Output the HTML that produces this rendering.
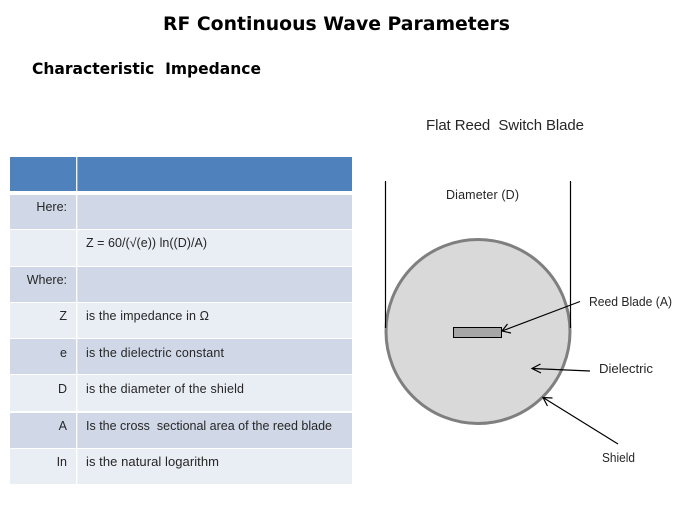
<!DOCTYPE html>
<html>
<head>
<meta charset="utf-8">
<style>
html,body{margin:0;padding:0;background:#fff;width:674px;height:506px;overflow:hidden}
svg{display:block}
text{font-family:"Liberation Sans",sans-serif;font-size:12.5px;fill:#262626;white-space:pre}
.t{font-family:"DejaVu Sans",sans-serif;font-weight:bold;fill:#000}
.r{text-anchor:end}
</style>
</head>
<body>
<svg width="674" height="506" viewBox="0 0 674 506" xmlns="http://www.w3.org/2000/svg">
<rect width="674" height="506" fill="#fff"/>
<text class="t" x="163" y="30" style="font-size:19px" textLength="347" lengthAdjust="spacingAndGlyphs">RF Continuous Wave Parameters</text>
<text class="t" x="32" y="74" style="font-size:16px" textLength="229" lengthAdjust="spacingAndGlyphs">Characteristic  Impedance</text>

<!-- table -->
<rect x="10" y="157" width="342" height="34" fill="#4f81bd"/>
<rect x="10" y="195" width="342" height="34" fill="#d0d8e8"/>
<rect x="10" y="230" width="342" height="36" fill="#e9edf4"/>
<rect x="10" y="267" width="342" height="35" fill="#d0d8e8"/>
<rect x="10" y="303" width="342" height="35" fill="#e9edf4"/>
<rect x="10" y="339" width="342" height="35" fill="#d0d8e8"/>
<rect x="10" y="375" width="342" height="36" fill="#e9edf4"/>
<rect x="10" y="413" width="342" height="35" fill="#d0d8e8"/>
<rect x="10" y="449" width="342" height="35" fill="#e9edf4"/>
<rect x="76" y="157" width="1.4" height="327" fill="#fff" opacity=".9"/>

<text class="r" x="67" y="211">Here:</text>
<text x="86" y="247" textLength="121" lengthAdjust="spacing">Z = 60/(√(e)) ln((D)/A)</text>
<text class="r" x="67" y="284">Where:</text>
<text class="r" x="67" y="320">Z</text>
<text x="86" y="320" textLength="123" lengthAdjust="spacing">is the impedance in Ω</text>
<text class="r" x="67" y="357">e</text>
<text x="86" y="357" textLength="138" lengthAdjust="spacing">is the dielectric constant</text>
<text class="r" x="67" y="393">D</text>
<text x="86" y="393" textLength="158" lengthAdjust="spacing">is the diameter of the shield</text>
<text class="r" x="67" y="430">A</text>
<text x="86" y="430" textLength="246" lengthAdjust="spacing">Is the cross  sectional area of the reed blade</text>
<text class="r" x="67" y="466">In</text>
<text x="86" y="466" style="font-size:13px" textLength="133" lengthAdjust="spacing">is the natural logarithm</text>

<!-- diagram -->
<text x="426" y="130" style="font-size:15px" textLength="158" lengthAdjust="spacing">Flat Reed  Switch Blade</text>
<text x="446" y="199" textLength="73" lengthAdjust="spacing">Diameter (D)</text>
<circle cx="478" cy="331.5" r="92" fill="#d9d9d9" stroke="#7f7f7f" stroke-width="3"/>
<path d="M385.5 181V328M570.5 181V328" stroke="#000" stroke-width="1.2" fill="none"/>
<rect x="453.5" y="327.5" width="48" height="10" fill="#a6a6a6" stroke="#000" stroke-width="1"/>
<g stroke="#000" stroke-width="1.2" fill="none">
<path d="M580 301.5L502 331M507.5 324L502 331L511 333"/>
<path d="M590 371L532 368.5M540.5 364L532 368.5L541 373"/>
<path d="M618 444L543 397.5M552.5 398L543 397.5L547.5 406"/>
</g>
<text x="589" y="306" style="font-size:12.8px" textLength="83" lengthAdjust="spacingAndGlyphs">Reed Blade (A)</text>
<text x="599" y="373" style="font-size:13.2px" textLength="54" lengthAdjust="spacing">Dielectric</text>
<text x="602" y="462" style="font-size:12.5px" textLength="33" lengthAdjust="spacingAndGlyphs">Shield</text>
</svg>
</body>
</html>
